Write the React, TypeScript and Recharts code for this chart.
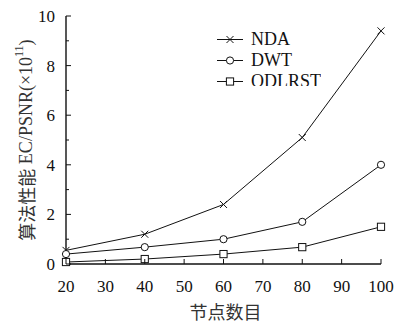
import { Line, LineChart, XAxis, YAxis } from "recharts";

const nodes = [20, 40, 60, 80, 100];
const nda = [0.55, 1.2, 2.4, 5.1, 9.4];
const dwt = [0.4, 0.68, 1.0, 1.7, 4.0];
const odlrst = [0.08, 0.2, 0.4, 0.68, 1.5];

const xTicks = [20, 30, 40, 50, 60, 70, 80, 90, 100];
const yTicks = [0, 1, 2, 3, 4, 5, 6, 7, 8, 9, 10];

const data = nodes.map((x, i) => ({ x, nda: nda[i], dwt: dwt[i], odlrst: odlrst[i] }));

const SERIF = "'Liberation Serif', 'DejaVu Serif', serif";
const CJK = "'Noto Sans CJK SC', sans-serif";
const INK = "#111";

function Cross({ cx, cy }: any) {
  const s = 3.5;
  return (
    <g stroke={INK} strokeWidth={1}>
      <line x1={cx - s} y1={cy - s} x2={cx + s} y2={cy + s} />
      <line x1={cx - s} y1={cy + s} x2={cx + s} y2={cy - s} />
    </g>
  );
}
function Circ({ cx, cy }: any) {
  return <circle cx={cx} cy={cy} r={3.6} fill="#fff" stroke={INK} strokeWidth={1} />;
}
function Sq({ cx, cy }: any) {
  return <rect x={cx - 3.6} y={cy - 3.6} width={7.2} height={7.2} fill="#fff" stroke={INK} strokeWidth={1} />;
}

function BottomTick({ x, y, payload }: any) {
  return (
    <g>
      <line x1={x} y1={y} x2={x} y2={y - 5} stroke={INK} strokeWidth={1} />
      <text x={x} y={y + 28} textAnchor="middle" style={{ fontFamily: SERIF, fontSize: 17 }} fill={INK}>
        {payload.value}
      </text>
    </g>
  );
}
function TopTick({ x, y }: any) {
  return <line x1={x} y1={y} x2={x} y2={y + 5} stroke={INK} strokeWidth={1} />;
}
function LeftTick({ x, y, payload }: any) {
  const major = payload.value % 2 === 0;
  return (
    <g>
      <line x1={x} y1={y} x2={x + (major ? 5 : 3)} y2={y} stroke={INK} strokeWidth={1} />
      {major && (
        <text x={x - 11} y={y + 6} textAnchor="end" style={{ fontFamily: SERIF, fontSize: 17 }} fill={INK}>
          {payload.value}
        </text>
      )}
    </g>
  );
}
function RightTick({ x, y, payload }: any) {
  const major = payload.value % 2 === 0;
  return <line x1={x} y1={y} x2={x - (major ? 5 : 3)} y2={y} stroke={INK} strokeWidth={1} />;
}

function YLabel({ viewBox }: any) {
  const cx = 26;
  const cy = viewBox.y + viewBox.height / 2;
  return (
    <text
      x={cx}
      y={cy}
      transform={`rotate(-90 ${cx} ${cy})`}
      textAnchor="middle"
      dominantBaseline="central"
      style={{ fontFamily: SERIF, fontSize: 18 }}
      fill="#333"
    >
      <tspan style={{ fontFamily: CJK }}>算法性能</tspan>
      {" EC/PSNR(×10"}
      <tspan fontSize={12} dy={-7}>11</tspan>
      <tspan dy={7}>)</tspan>
    </text>
  );
}

function XLabel({ viewBox }: any) {
  return (
    <text
      x={viewBox.x + viewBox.width / 2 + 2}
      y={319}
      textAnchor="middle"
      style={{ fontFamily: CJK, fontSize: 18 }}
      fill="#333"
    >
      节点数目
    </text>
  );
}

const legendItems = [
  { name: "NDA", Mark: Cross },
  { name: "DWT", Mark: Circ },
  { name: "ODLRST", Mark: Sq },
];

export default function App() {
  return (
    <div style={{ position: "absolute", left: 0, top: 0, width: 394, height: 326, background: "#fff" }}>
      <LineChart width={394} height={326} data={data} margin={{ top: 16, right: 13, left: 0, bottom: 0 }}>
        <XAxis
          dataKey="x"
          type="number"
          domain={[20, 100]}
          ticks={xTicks}
          interval={0}
          height={62}
          tickSize={0}
          tickMargin={0}
          tickLine={false}
          axisLine={{ stroke: INK, strokeWidth: 1.4 }}
          tick={<BottomTick />}
          label={<XLabel />}
        />
        <XAxis
          xAxisId="top"
          orientation="top"
          dataKey="x"
          type="number"
          domain={[20, 100]}
          ticks={xTicks}
          interval={0}
          height={0}
          tickSize={0}
          tickMargin={0}
          tickLine={false}
          axisLine={{ stroke: INK, strokeWidth: 1.4 }}
          tick={<TopTick />}
        />
        <YAxis
          type="number"
          domain={[0, 10]}
          ticks={yTicks}
          interval={0}
          width={66}
          tickSize={0}
          tickMargin={0}
          tickLine={false}
          axisLine={{ stroke: INK, strokeWidth: 1.4 }}
          tick={<LeftTick />}
          label={<YLabel />}
        />
        <YAxis
          yAxisId="right"
          orientation="right"
          type="number"
          domain={[0, 10]}
          ticks={yTicks}
          interval={0}
          width={0}
          tickSize={0}
          tickMargin={0}
          tickLine={false}
          axisLine={{ stroke: INK, strokeWidth: 1.4 }}
          tick={<RightTick />}
        />
        <Line dataKey="nda" stroke={INK} strokeWidth={1} dot={(p: any) => <Cross key={p.index} {...p} />} isAnimationActive={false} />
        <Line dataKey="dwt" stroke={INK} strokeWidth={1} dot={(p: any) => <Circ key={p.index} {...p} />} isAnimationActive={false} />
        <Line dataKey="odlrst" stroke={INK} strokeWidth={1} dot={(p: any) => <Sq key={p.index} {...p} />} isAnimationActive={false} />
      </LineChart>
      <div style={{ position: "absolute", left: 216, top: 29, height: 57, overflow: "hidden" }}>
        {legendItems.map(({ name, Mark }) => (
          <div key={name} style={{ display: "flex", alignItems: "center", height: 21 }}>
            <svg width={30} height={21}>
              <line x1={1} y1={10.5} x2={27} y2={10.5} stroke={INK} strokeWidth={1} />
              <Mark cx={14} cy={10.5} />
            </svg>
            <span style={{ fontFamily: SERIF, fontSize: 18, color: INK, marginLeft: 5, lineHeight: "21px" }}>{name}</span>
          </div>
        ))}
      </div>
    </div>
  );
}
